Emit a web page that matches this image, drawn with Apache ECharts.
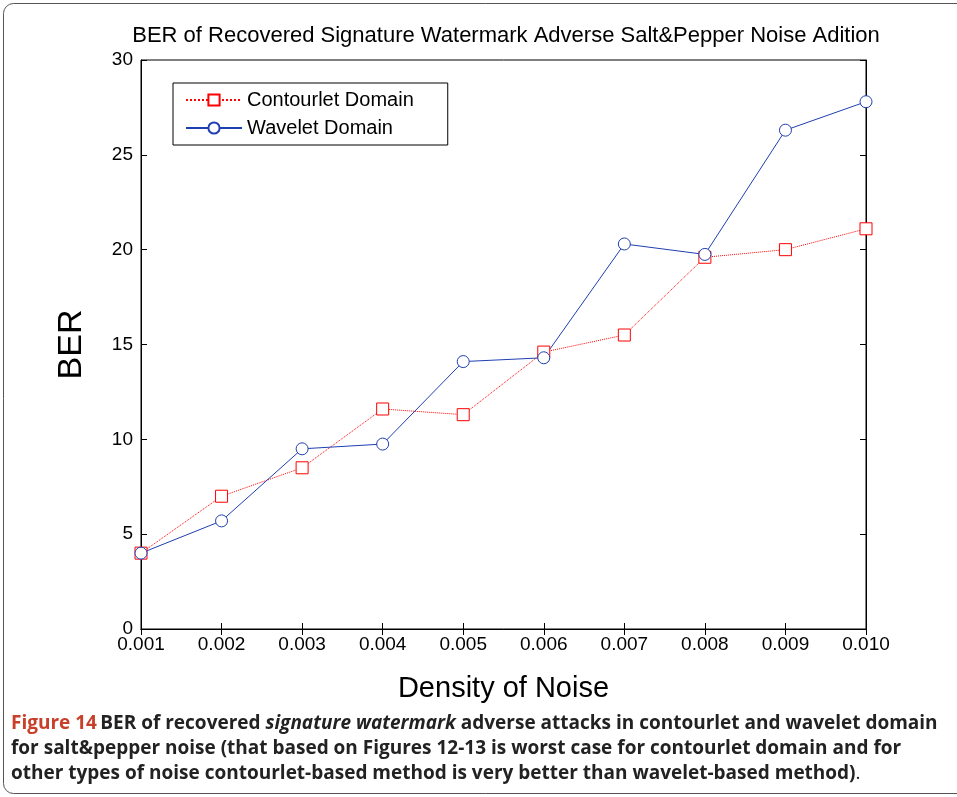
<!DOCTYPE html>
<html>
<head>
<meta charset="utf-8">
<script src="https://cdn.jsdelivr.net/npm/echarts@6/dist/echarts.min.js"></script>
<style>html,body{margin:0;padding:0;background:#fff}#main{width:957px;height:797px}</style>
</head>
<body>
<div id="main"></div>
<script>
var categories = ['0.001','0.002','0.003','0.004','0.005','0.006','0.007','0.008','0.009','0.010'];
var contourlet = [4.0, 7.0, 8.5, 11.6, 11.3, 14.6, 15.5, 19.6, 20.0, 21.1];
var wavelet = [4.0, 5.7, 9.5, 9.75, 14.1, 14.3, 20.3, 19.75, 26.3, 27.8];

var chart = echarts.init(document.getElementById('main'));
var axisFont = { fontFamily: 'Liberation Sans, Arial', color: '#000', fontSize: 19 };
var tick = { inside: true, length: 6, lineStyle: { color: '#000' } };

chart.setOption({
    animation: false,
    title: {
        text: 'BER of Recovered Signature Watermark Adverse Salt&Pepper Noise Adition',
        left: 501, top: 20, textAlign: 'center',
        textStyle: { fontFamily: 'Liberation Sans, Arial', fontWeight: 'normal', fontSize: 22, color: '#000' }
    },
    legend: {
        orient: 'vertical', left: 173, top: 83,
        padding: [7, 34, 7, 12], itemGap: 8,
        backgroundColor: '#fff', borderColor: '#000', borderWidth: 1, borderRadius: 0,
        itemWidth: 56, itemHeight: 14,
        textStyle: { fontFamily: 'Liberation Sans, Arial', fontSize: 20, color: '#000' },
        data: ['Contourlet Domain', 'Wavelet Domain']
    },
    grid: { left: 141, right: 91, top: 60, bottom: 168, show: true, borderColor: '#000', borderWidth: 1 },
    xAxis: [{
        type: 'category', data: categories, boundaryGap: false,
        name: 'Density of Noise', nameLocation: 'middle', nameGap: 45,
        nameTextStyle: { fontFamily: 'Liberation Sans, Arial', fontSize: 29, color: '#000' },
        axisLine: { lineStyle: { color: '#000' } },
        axisTick: tick,
        axisLabel: Object.assign({ margin: 6 }, axisFont),
        splitLine: { show: false }
    }, {
        type: 'category', data: categories, boundaryGap: false, position: 'top',
        axisLine: { lineStyle: { color: '#000' } }, axisTick: tick, axisLabel: { show: false }
    }],
    yAxis: [{
        type: 'value', min: 0, max: 30, interval: 5,
        name: 'BER', nameLocation: 'middle', nameGap: 52,
        nameTextStyle: { fontFamily: 'Liberation Sans, Arial', fontSize: 34, color: '#000' },
        axisLine: { show: true, lineStyle: { color: '#000' } },
        axisTick: Object.assign({ show: true }, tick),
        axisLabel: Object.assign({ margin: 8 }, axisFont),
        splitLine: { show: false }
    }, {
        type: 'value', min: 0, max: 30, interval: 5, position: 'right',
        axisLine: { show: true, lineStyle: { color: '#000' } },
        axisTick: Object.assign({ show: true }, tick),
        axisLabel: { show: false }, splitLine: { show: false }
    }],
    series: [
        {
            name: 'Contourlet Domain', type: 'line', data: contourlet,
            symbol: 'rect', symbolSize: 12,
            lineStyle: { color: '#ff0000', width: 1, type: 'dotted' },
            itemStyle: { color: '#fff', borderColor: '#ff0000', borderWidth: 1 }
        },
        {
            name: 'Wavelet Domain', type: 'line', data: wavelet,
            symbol: 'circle', symbolSize: 12,
            lineStyle: { color: '#1f3fb0', width: 1 },
            itemStyle: { color: '#fff', borderColor: '#1f3fb0', borderWidth: 1 }
        }
    ],
    graphic: [
        {
            type: 'rect', left: 1, top: 1, z: -10,
            shape: { width: 970, height: 790, r: 10 },
            style: { fill: 'none', stroke: '#555', lineWidth: 1 }
        },
        {
            type: 'text', left: 11, top: 711,
            style: {
                text: '{b|Figure 14} {n|BER of recovered }{i|signature watermark}{n| adverse attacks in contourlet and wavelet domain}\n{n|for salt&pepper noise (that based on Figures 12-13 is worst case for contourlet domain and for}\n{n|other types of noise contourlet-based method is very better than wavelet-based method)}{r|.}',
                lineHeight: 25,
                rich: {
                    b: { fontFamily: 'Open Sans, Liberation Sans', fontWeight: 'bold', fontSize: 19, fill: '#c8402a' },
                    n: { fontFamily: 'Open Sans, Liberation Sans', fontWeight: 'bold', fontSize: 19, fill: '#222' },
                    i: { fontFamily: 'Open Sans, Liberation Sans', fontWeight: 'bold', fontStyle: 'italic', fontSize: 19, fill: '#222' },
                    r: { fontFamily: 'Open Sans, Liberation Sans', fontSize: 19, fill: '#222' }
                }
            }
        }
    ]
});
</script>
</body>
</html>
